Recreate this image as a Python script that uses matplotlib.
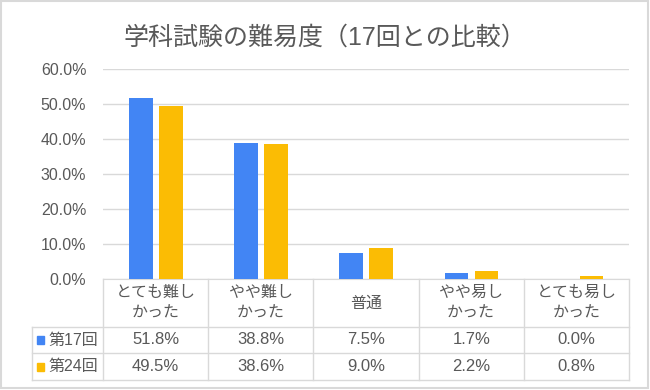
import matplotlib
matplotlib.use("Agg")
import matplotlib.pyplot as plt
from matplotlib.patches import Rectangle
from matplotlib.lines import Line2D
from matplotlib.transforms import blended_transform_factory
import numpy as np

plt.rcParams['font.family'] = ['Liberation Sans', 'Noto Sans CJK JP', 'DejaVu Sans']

# データ
categories = ["とても難し\nかった", "やや難し\nかった", "普通", "やや易し\nかった", "とても易し\nかった"]
series_names = ["第17回", "第24回"]
vals_17 = [51.8, 38.8, 7.5, 1.7, 0.0]
vals_24 = [49.5, 38.6, 9.0, 2.2, 0.8]
yticks = [0, 10, 20, 30, 40, 50, 60]

blue = '#4285F4'
yellow = '#FBBC04'
text_col = '#595959'
line_col = '#D9D9D9'

W, H = 650, 390
fig = plt.figure(figsize=(W / 100, H / 100), dpi=100)

def fx(px):
    return px / W

def fy(py):
    return 1 - py / H

# プロット領域
left, right, top, bottom = 103, 629, 69, 279
ax = fig.add_axes([fx(left), fy(bottom), fx(right - left), (bottom - top) / H])

x = np.arange(len(categories))
bw = 0.225
ax.bar(x - 0.14, vals_17, bw, color=blue, zorder=3)
ax.bar(x + 0.145, vals_24, bw, color=yellow, zorder=3)

ax.set_xlim(-0.5, len(categories) - 0.5)
ax.set_ylim(0, 60)
ax.set_yticks(yticks)
ax.set_yticklabels([f"{v:.1f}%" for v in yticks], color=text_col, fontsize=11.5)
ax.set_xticks([])
ax.grid(axis='y', color=line_col, linewidth=1, zorder=0)
for s in ['top', 'right', 'left']:
    ax.spines[s].set_visible(False)
ax.spines['bottom'].set_color(line_col)
ax.tick_params(axis='y', length=0, pad=12)

# タイトル
fig.text(0.5, fy(38), "学科試験の難易度（17回との比較）", ha='center', va='center',
         fontsize=18, color=text_col)

# データテーブル
tr = blended_transform_factory(ax.transData, fig.transFigure)
row1, row2, row3 = 327, 353, 380
tab_left = 32

for i in range(len(categories) + 1):
    xb = i - 0.5
    fig.add_artist(Line2D([xb, xb], [fy(bottom), fy(row3)], transform=tr, color=line_col, lw=1))
fig.add_artist(Line2D([fx(tab_left), fx(tab_left)], [fy(row1), fy(row3)], color=line_col, lw=1))
for yy in [row1, row2, row3]:
    fig.add_artist(Line2D([fx(tab_left), fx(right)], [fy(yy), fy(yy)], color=line_col, lw=1))

for i, c in enumerate(categories):
    fig.text(i, fy((bottom + row1) / 2), c, transform=tr, ha='center', va='center',
             fontsize=11.5, color=text_col, linespacing=1.45)

for vals, ya, yb in [(vals_17, row1, row2), (vals_24, row2, row3)]:
    for i, v in enumerate(vals):
        fig.text(i, fy((ya + yb) / 2), f"{v:.1f}%", transform=tr, ha='center', va='center',
                 fontsize=12, color=text_col)

for name, col, ya, yb in [(series_names[0], blue, row1, row2), (series_names[1], yellow, row2, row3)]:
    yc = (ya + yb) / 2
    fig.add_artist(Rectangle((fx(37), fy(yc + 4)), fx(7), 8 / H, color=col))
    fig.text(fx(48), fy(yc), name, ha='left', va='center', fontsize=11.5, color=text_col)

# 外枠
fig.add_artist(Rectangle((fx(1), fy(388)), fx(647), 387 / H, fill=False,
                         edgecolor=line_col, lw=1.5))

fig.savefig("out.png", dpi=100, facecolor='white')
